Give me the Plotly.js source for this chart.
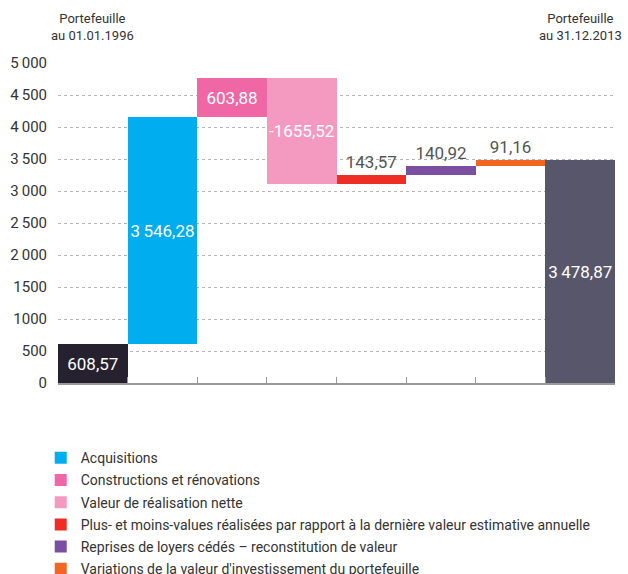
<!DOCTYPE html>
<html>
<head>
<meta charset="utf-8">
<script src="https://cdn.plot.ly/plotly-3.0.1.min.js"></script>
<style>html,body{margin:0;padding:0;background:#fff;}#chart{width:628px;height:574px;}</style>
</head>
<body>
<div id="chart"></div>
<script>
const categories = ['Portefeuille au 01.01.1996', 'Acquisitions', 'Constructions et rénovations', 'Valeur de réalisation nette', 'Plus- et moins-values réalisées par rapport à la dernière valeur estimative annuelle', 'Reprises de loyers cédés – reconstitution de valeur', 'Variations de la valeur d\'investissement du portefeuille', 'Portefeuille au 31.12.2013'];
const values = [608.57, 3546.28, 603.88, -1655.52, 143.57, 140.92, 91.16, 3478.87];
const isTotal = [true, false, false, false, false, false, false, true];
const labels = ['608,57', '3\u2009546,28', '603,88', '-1655,52', '143,57', '140,92', '91,16', '3\u2009478,87'];
const colors = ['#25212e', '#00aeef', '#f067a6', '#f49ac1', '#ee2e24', '#7b4fa0', '#f26522', '#58566a'];
const yTickVals = [0, 500, 1000, 1500, 2000, 2500, 3000, 3500, 4000, 4500, 5000];
const yTickText = ['0', '500', '1000', '1500', '2\u2009000', '2\u2009500', '3\u2009000', '3\u2009500', '4\u2009000', '4\u2009500', '5\u2009000'];

const FONT = 'Roboto, "Open Sans", sans-serif';
let running = 0;
const traces = categories.map((c, i) => {
  let base, y;
  if (isTotal[i]) { base = 0; y = values[i]; running = values[i]; }
  else { base = running; y = values[i]; running += values[i]; }
  const small = Math.abs(values[i]) < 300;
  return {
    type: 'bar', x: [c], y: [y], base: [base],
    name: c, showlegend: !isTotal[i], legendgroup: 'g' + i,
    marker: {color: colors[i], line: {width: 0}},
    text: [labels[i]],
    textposition: small ? 'outside' : 'inside',
    insidetextanchor: 'middle',
    textangle: 0,
    constraintext: 'none',
    cliponaxis: false,
    textfont: {family: FONT, size: 17, color: small ? '#555555' : '#ffffff'},
    hoverinfo: 'x+y'
  };
});

const layout = {
  width: 628, height: 574,
  margin: {l: 58, r: 13, t: 63, b: 191, autoexpand: false},
  paper_bgcolor: '#fff', plot_bgcolor: '#fff',
  font: {family: FONT, size: 14, color: '#333'},
  barmode: 'overlay', bargap: 0,
  xaxis: {
    type: 'category', range: [-0.5, 7.5], showticklabels: false, tickson: 'boundaries',
    ticks: 'inside', ticklen: 6, tickcolor: '#999', showgrid: false,
    showline: true, linecolor: '#999', linewidth: 1.5, zeroline: false,
    fixedrange: true
  },
  yaxis: {
    range: [0, 5000], tickvals: yTickVals, ticktext: yTickText,
    showgrid: true, gridcolor: '#b5b5b5', griddash: '3px,3px', gridwidth: 1,
    zeroline: false, showline: false, ticks: '',
    tickfont: {family: FONT, size: 15, color: '#333'},
    ticklabelstandoff: 10
  },
  showlegend: true,
  legend: {
    orientation: 'v', x: -0.031, xanchor: 'left', y: -0.185, yanchor: 'top',
    traceorder: 'grouped', tracegroupgap: 1,
    font: {family: FONT, size: 14, color: '#333'},
    bgcolor: 'rgba(0,0,0,0)'
  },
  annotations: [
    {xref: 'x', yref: 'paper', x: categories[0], y: 1, yshift: 18, text: 'Portefeuille<br>au 01.01.1996', showarrow: false, yanchor: 'bottom', font: {family: FONT, size: 13, color: '#333'}},
    {xref: 'x', yref: 'paper', x: categories[7], y: 1, yshift: 18, text: 'Portefeuille<br>au 31.12.2013', showarrow: false, yanchor: 'bottom', font: {family: FONT, size: 13, color: '#333'}}
  ]
};

Plotly.newPlot('chart', traces, layout, {displayModeBar: false, staticPlot: true});
</script>
</body>
</html>
